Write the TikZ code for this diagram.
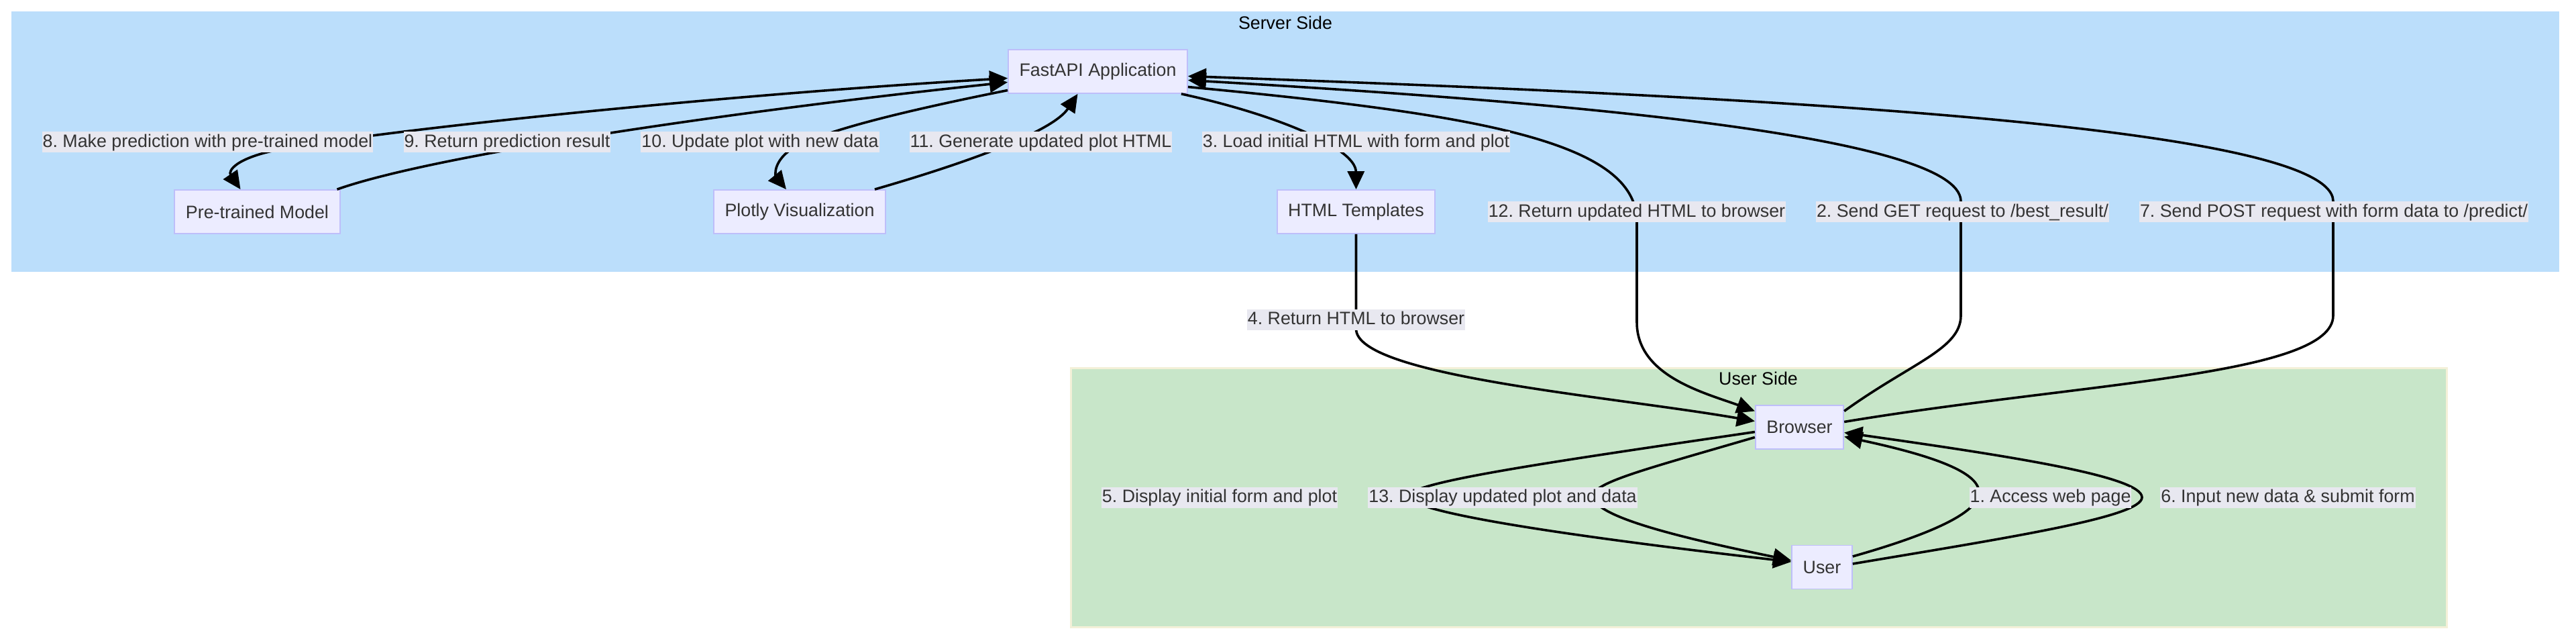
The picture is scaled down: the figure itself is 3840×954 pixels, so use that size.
\documentclass[tikz,border=0pt]{standalone}
\usepackage{fontspec}
\setmainfont{Liberation Sans}
\usetikzlibrary{arrows.meta,calc}
\frenchspacing

\definecolor{serverbg}{RGB}{187,222,251}
\definecolor{userbg}{RGB}{200,230,201}
\definecolor{userline}{RGB}{243,240,216}
\definecolor{nodefill}{RGB}{236,236,255}
\definecolor{nodeline}{RGB}{190,190,250}
\definecolor{lblfill}{RGB}{232,232,240}
\definecolor{ink}{RGB}{51,51,51}

\begin{document}
\begin{tikzpicture}[x=0.5pt,y=-0.5pt,
  box/.style={draw=nodeline,line width=0.9pt,fill=nodefill,text=ink,
    minimum height=32.5pt,inner xsep=8.3pt,font=\fontsize{13.4}{16}\selectfont},
  lbl/.style={fill=lblfill,text=ink,inner xsep=0.5pt,inner ysep=0.35pt,
    text height=11.2pt,text depth=3.6pt,font=\fontsize{13.4}{16}\selectfont},
  title/.style={text=black,font=\fontsize{13.4}{16}\selectfont},
  flow/.style={line width=1.8pt,>={Triangle[length=13.5pt,width=12.5pt]},->}]

  \useasboundingbox (0,0) rectangle (3840,954);
  \fill[serverbg] (17,17) rectangle (3815,405);
  \filldraw[fill=userbg,draw=userline,line width=1.5pt] (1596,548) rectangle (3647,934);
  \node[title] (server) at (1916,34) {Server Side};
  \node[title] (client) at (2621,564) {User Side};

  \node[box] (fast) at (1636.5,106.5) {FastAPI Application};
  \node[box] (model) at (383.5,315.5) {Pre-trained Model};
  \node[box] (plotly) at (1192,315.5) {Plotly Visualization};
  \node[box] (tmpl) at (2021.5,315.5) {HTML Templates};
  \node[box] (browser) at (2682.5,636.5) {Browser};
  \node[box] (user) at (2716,845) {User};

  \draw[flow] ($(user.east)+(0,-16)$) .. controls (3040,750) and (2980,700) .. ($(browser.east)+(0,14)$);
  \draw[flow] ($(browser.east)+(0,-24)$) .. controls (2850,540) and (2923,520) .. (2923,470)
    -- (2923,300) .. controls (2923,200) and (2300,150) .. ($(fast.east)+(0,13)$);
  \draw[flow] ($(fast.south east)+(-10,0)$) .. controls (1900,170) and (2021,220) .. (tmpl.north);
  \draw[flow] (tmpl.south) -- (2021.5,490) .. controls (2021.5,560) and (2400,590) .. ($(browser.west)+(0,-9)$);
  \draw[flow] ($(browser.west)+(0,7)$) .. controls (2300,690) and (2090,720) .. (2100,741)
    .. controls (2110,765) and (2350,800) .. ($(user.west)+(0,-8)$);
  \draw[flow] ($(user.east)+(0,-5)$) .. controls (3000,800) and (3193,770) .. (3193,741)
    .. controls (3193,710) and (3000,680) .. ($(browser.east)+(0,8)$);
  \draw[flow] ($(browser.east)+(0,-8)$) .. controls (3100,570) and (3478,560) .. (3478,470)
    -- (3478,300) .. controls (3478,180) and (2500,140) .. ($(fast.east)+(0,7)$);
  \draw[flow,<->] ($(fast.west)+(0,10)$) .. controls (1100,140) and (600,190) .. (420,222)
    .. controls (350,235) and (340,255) .. ($(model.north)+(-25,0)$);
  \draw[flow] ($(model.north east)+(-5,0)$) .. controls (650,230) and (1100,165) .. ($(fast.west)+(0,16)$);
  \draw[flow] ($(fast.west)+(0,28)$) .. controls (1350,165) and (1200,200) .. (1170,230)
    .. controls (1150,250) and (1158,265) .. ($(plotly.north)+(-20,0)$);
  \draw[flow] ($(plotly.north east)+(-17,0)$) .. controls (1450,240) and (1570,195) .. ($(fast.south)+(-30,0)$);
  \draw[flow] ($(fast.east)+(0,23)$) .. controls (2200,170) and (2440,210) .. (2440,330)
    -- (2440,480) .. controls (2440,560) and (2540,585) .. ($(browser.west)+(0,-24)$);
  \draw[flow] ($(browser.west)+(0,15)$) .. controls (2450,700) and (2370,720) .. (2375,741)
    .. controls (2380,770) and (2500,800) .. ($(user.west)+(0,-10)$);

  \foreach \x/\y/\name/\txt in {
    3056.5/741/l1/{1. Access web page},
    2925.5/315.5/l2/{2. Send GET request to /best\_result/},
    2021.5/211.5/l3/{3. Load initial HTML with form and plot},
    2021.5/476/l4/{4. Return HTML to browser},
    1818/741/l5/{5. Display initial form and plot},
    3410.5/741/l6/{6. Input new data \& submit form},
    3479/315.5/l7/{7. Send POST request with form data to /predict/},
    309.5/211.5/l8/{8. Make prediction with pre-trained model},
    756/211.5/l9/{9. Return prediction result},
    1133/211.5/l10/{10. Update plot with new data},
    1551.5/211.5/l11/{11. Generate updated plot HTML},
    2440/315.5/l12/{12. Return updated HTML to browser},
    2240/741/l13/{13. Display updated plot and data}}
    \node[lbl] (\name) at (\x,\y) {\txt};
\end{tikzpicture}
\end{document}
